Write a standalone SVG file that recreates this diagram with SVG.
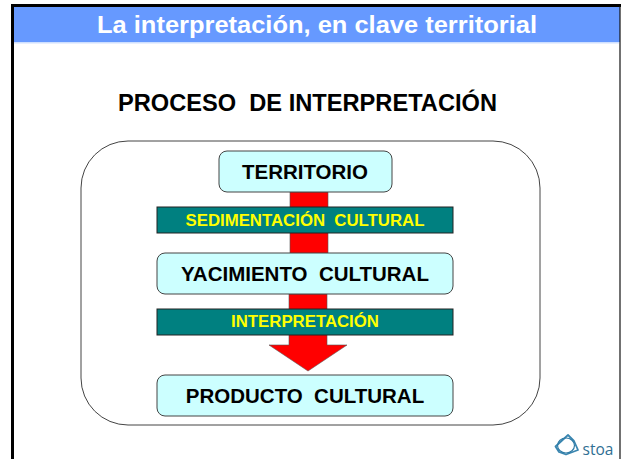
<svg xmlns="http://www.w3.org/2000/svg" width="621" height="459" viewBox="0 0 621 459">
<style>
text{font-family:"Liberation Sans",Arial,sans-serif;font-weight:bold;text-anchor:middle}
.node{fill:#ccffff;stroke:#444;stroke-width:1}
.band{fill:#008080;stroke:#222;stroke-width:1}
.nt{font-size:20.5px;fill:#000}
.bt{font-size:16.8px;fill:#ffff00}
.red{fill:#ff0000;stroke:#555;stroke-width:.6}
</style>
<rect width="621" height="459" fill="#fff"/>
<rect x="13" y="6" width="607" height="36" fill="#6699ff"/>
<rect x="14" y="42" width="605" height="1.5" fill="#cfe0ff"/>
<path d="M12.5 459V5.5H621" fill="none" stroke="#000" stroke-width="3"/>
<path d="M620 6V459" fill="none" stroke="#111" stroke-width="1.2"/>
<text x="317" y="33" font-size="23" fill="#fff" textLength="440" lengthAdjust="spacingAndGlyphs">La interpretación, en clave territorial</text>
<text x="307.500" y="111" font-size="23" fill="#000" xml:space="preserve" textLength="379" lengthAdjust="spacingAndGlyphs">PROCESO  DE INTERPRETACIÓN</text>
<rect id="frame" x="81" y="141" width="459" height="284" rx="47" ry="47" fill="none" stroke="#444" stroke-width="1"/>
<g id="connectors">
<rect class="red" x="290" y="192" width="38" height="62"/>
<path class="red" d="M289 294H327V345H347L308 371L269 345H289Z"/>
</g>
<g id="territorio"><rect class="node" x="219" y="151" width="173" height="41" rx="8"/><text class="nt" x="305" y="179">TERRITORIO</text></g>
<g id="sedimentacion"><rect class="band" x="157" y="207" width="296" height="26"/><text class="bt" x="305" y="226" xml:space="preserve">SEDIMENTACIÓN  CULTURAL</text></g>
<g id="yacimiento"><rect class="node" x="157" y="253" width="296" height="41" rx="8"/><text class="nt" x="305" y="281" xml:space="preserve">YACIMIENTO  CULTURAL</text></g>
<g id="interpretacion"><rect class="band" x="157" y="309" width="296" height="26"/><text class="bt" x="305" y="327">INTERPRETACIÓN</text></g>
<g id="producto"><rect class="node" x="157" y="375" width="296" height="41" rx="8"/><text class="nt" x="305" y="403" xml:space="preserve">PRODUCTO  CULTURAL</text></g>
<g id="logo">
<path d="M555.500 446.500L568 435L574 441L578 450L566 454.500L559 452Z" fill="none" stroke="#3a86b0" stroke-width="1.8" stroke-linejoin="round"/>
<ellipse cx="566" cy="445.500" rx="8.500" ry="7.500" fill="none" stroke="#2f7ba6" stroke-width="1.2"/>
<text x="598" y="454.500" font-size="15.5" fill="#2f6f93" style="font-family:'Open Sans',sans-serif;font-weight:normal">stoa</text>
</g>
</svg>
